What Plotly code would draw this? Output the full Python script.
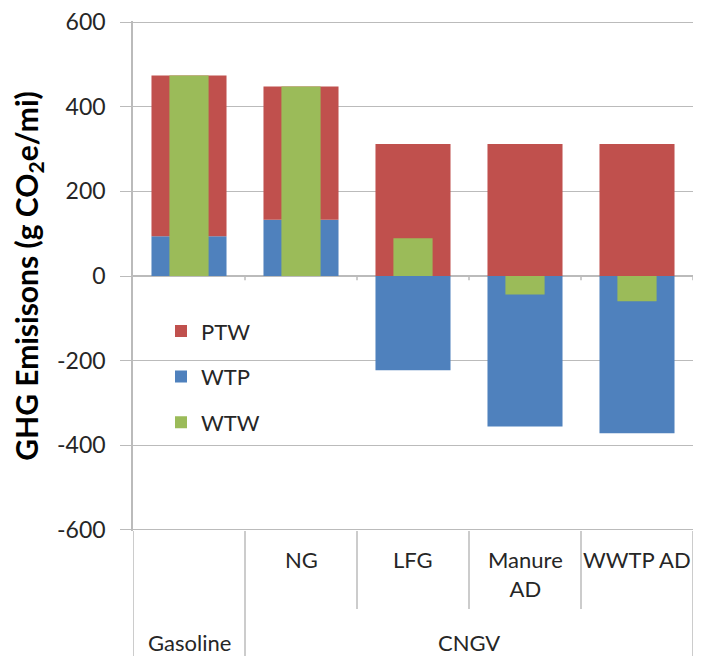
import plotly.graph_objects as go

# ---- data ----
categories = ["Gasoline", "NG", "LFG", "Manure AD", "WWTP AD"]
sub_labels = ["", "NG", "LFG", "Manure<br>AD", "WWTP AD"]
group_labels = ["Gasoline", "CNGV"]
group_centers = [0, 2.5]
ptw = [380, 315, 312, 312, 312]
wtp = [94, 133, -223, -356, -372]
wtw = [474, 448, 89, -44, -60]
y_ticks = [-600, -400, -200, 0, 200, 400, 600]
y_tick_text = ["-600", "-400", "-200", "0", "200", "400", "600"]

RED = "#C0504D"
BLUE = "#4F81BD"
GREEN = "#9BBB59"
GRID = "#BBBBBB"
TXT = "#262626"
FONT = "Lato"

ptw_base = [w if w > 0 else 0 for w in wtp]

fig = go.Figure()
fig.add_trace(go.Bar(x=categories, y=wtp, name="WTP", marker=dict(color=BLUE, line=dict(width=0)),
                     width=0.67, legendrank=2, legendgroup="b"))
fig.add_trace(go.Bar(x=categories, y=ptw, base=ptw_base, name="PTW", marker=dict(color=RED, line=dict(width=0)),
                     width=0.67, legendrank=1, legendgroup="a"))
fig.add_trace(go.Bar(x=categories, y=wtw, name="WTW", marker=dict(color=GREEN, line=dict(width=0)),
                     width=0.35, legendrank=3, legendgroup="c"))

shapes = []
# small tick marks on the zero line at category boundaries
for i in range(len(categories)):
    xb = i + 0.5
    shapes.append(dict(type="line", xref="x", yref="y", x0=xb, x1=xb, y0=0, y1=-10,
                       line=dict(color=GRID, width=1.5)))
# dividers below the plot
full = [-0.5, 0.5, len(categories) - 0.5]
short = [1.5, 2.5, 3.5]
for xb in full:
    shapes.append(dict(type="line", xref="x", yref="paper", x0=xb, x1=xb, y0=0, y1=-0.26,
                       line=dict(color=GRID, width=1.5)))
for xb in short:
    shapes.append(dict(type="line", xref="x", yref="paper", x0=xb, x1=xb, y0=0, y1=-0.153,
                       line=dict(color=GRID, width=1.5)))

annotations = []
for i, lab in enumerate(sub_labels):
    if lab:
        annotations.append(dict(x=i, y=-0.025, xref="x", yref="paper", text=lab, showarrow=False,
                                yanchor="top", xanchor="center",
                                font=dict(family=FONT, size=22, color=TXT)))
for lab, c in zip(group_labels, group_centers):
    annotations.append(dict(x=c, y=-0.188, xref="x", yref="paper", text=lab, showarrow=False,
                            yanchor="top", xanchor="center",
                            font=dict(family=FONT, size=22, color=TXT)))

# the page places the figure 8px from the top-left corner
fig.update_layout(
    width=693, height=648,
    margin=dict(l=125, r=8, t=13, b=125, autoexpand=False),
    paper_bgcolor="white", plot_bgcolor="white",
    barmode="overlay",
    font=dict(family=FONT, size=22, color=TXT),
    showlegend=True,
    legend=dict(x=0.05, y=0.433, xanchor="left", yanchor="top", bgcolor="rgba(0,0,0,0)",
                font=dict(family=FONT, size=22, color=TXT), tracegroupgap=14,
                traceorder="grouped"),
    xaxis=dict(type="category", range=[-0.5, len(categories) - 0.5], showticklabels=False,
               showgrid=False, zeroline=False, showline=False, ticks="", automargin=False),
    yaxis=dict(range=[-603, 603], tickvals=y_ticks, ticktext=y_tick_text,
               showgrid=True, gridcolor=GRID, gridwidth=1,
               zeroline=True, zerolinecolor=GRID, zerolinewidth=1.5,
               showline=True, linecolor=GRID, linewidth=1.5, automargin=False,
               ticks="outside", ticklen=11, tickcolor=GRID, tickwidth=1,
               ticklabelstandoff=10, ticklabeloverflow="allow",
               tickfont=dict(family=FONT, size=23, color=TXT),
               title=dict(text="<b>GHG Emisisons (g CO<sub>2</sub>e/mi)</b>",
                          font=dict(family=FONT, size=30, color="#000000"), standoff=10)),
    shapes=shapes,
    annotations=annotations,
)

fig.write_html("out.html")
